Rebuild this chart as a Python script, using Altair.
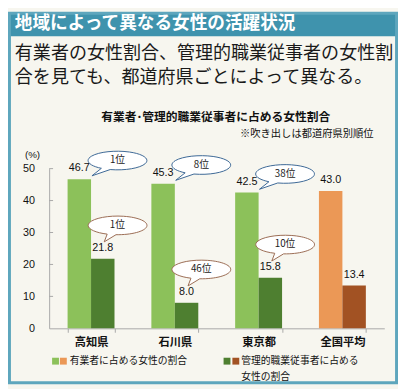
import altair as alt
import pandas as pd

# ---------------- data ----------------
categories = ["高知県", "石川県", "東京都", "全国平均"]
employed_share = [46.7, 45.3, 42.5, 43.0]      # 有業者に占める女性の割合 (%)
manager_share = [21.8, 8.0, 15.8, 13.4]        # 管理的職業従事者に占める女性の割合 (%)
employed_rank = ["1位", "8位", "38位", ""]
manager_rank = ["1位", "46位", "10位", ""]
legend_lines_a = ["有業者に占める女性の割合"]
legend_lines_b = ["管理的職業従事者に占める", "女性の割合"]
y_ticks = [0, 10, 20, 30, 40, 50]

header = "地域によって異なる女性の活躍状況"
lead_lines = ["有業者の女性割合、管理的職業従事者の女性割", "合を見ても、都道府県ごとによって異なる。"]
chart_title = "有業者･管理的職業従事者に占める女性割合"
note = "※吹き出しは都道府県別順位"
unit = "(%)"

# ---------------- styles ----------------
LIGHT_GREEN = "#8cc15a"
DARK_GREEN = "#4e7f30"
ORANGE = "#eb9856"
BROWN = "#a25223"
TEAL = "#3f93ad"
FRAME = "#5ea6bd"
CREAM = "#f7f6ef"
JP = "Noto Sans CJK JP"
LAT = "Liberation Sans"

rows = []
for i, c in enumerate(categories):
    grp = "avg" if c == "全国平均" else "pref"
    rows.append(dict(cat=c, series="a", value=employed_share[i], rank=employed_rank[i], key=grp + "_a"))
    rows.append(dict(cat=c, series="b", value=manager_share[i], rank=manager_rank[i], key=grp + "_b"))
df = pd.DataFrame(rows)

PAD_L, PAD_T, PAD_R, PAD_B = 42, 160, 14, 58
W, H = 342, 163
OX, OY = 8 + PAD_L, 8 + PAD_T  # page position of plot origin


def px(x):
    return x - OX


def py(y):
    return y - OY


yscale = alt.Scale(domain=[0, 50], nice=False)
xscale = alt.Scale(paddingInner=0.44, paddingOuter=0.22)

x_axis = alt.Axis(title=None, labelAngle=0, tickBand="extent", tickSize=4,
                  tickColor="#a8a8a8", domainColor="#a8a8a8",
                  labelFont=JP, labelFontWeight="bold", labelFontSize=11.5,
                  labelColor="#111", labelPadding=5)
y_axis = alt.Axis(values=y_ticks, title=None, grid=False, ticks=False,
                  domainColor="#a8a8a8", labelFont=LAT, labelFontSize=11,
                  labelColor="#111", labelPadding=15)


def xpos(band=None):
    if band is None:
        return alt.X("cat:N", sort=categories, scale=xscale, axis=x_axis)
    return alt.X("cat:N", sort=categories, scale=xscale, axis=x_axis, bandPosition=band)


def ypos(field="value"):
    return alt.Y(f"{field}:Q", scale=yscale, axis=y_axis)


bars = alt.Chart(df).mark_bar().encode(
    x=xpos(),
    xOffset=alt.XOffset("series:N", scale=alt.Scale(paddingInner=0, paddingOuter=0)),
    y=ypos(),
    color=alt.Color("key:N", legend=None,
                    scale=alt.Scale(domain=["pref_a", "pref_b", "avg_a", "avg_b"],
                                    range=[LIGHT_GREEN, DARK_GREEN, ORANGE, BROWN])),
)

ytick_df = pd.DataFrame({"value": y_ticks[1:]})
yticks = alt.Chart(ytick_df).mark_rule(color="#a8a8a8").encode(
    y=ypos(), x=alt.value(0), x2=alt.value(4)
)


def value_labels(series, band):
    return alt.Chart(df).transform_filter(f"datum.series == '{series}'").mark_text(
        dy=-6, baseline="bottom", fontSize=11, font=LAT, color="#111"
    ).encode(x=xpos(band), y=ypos(), text=alt.Text("value:Q", format=".1f"))


PATH_UP = "M -0.25 0.307 A 1 0.317 0 1 0 -0.55 0.265 L -0.87 0.52 Z"
PATH_LOW = "M -0.05 0.317 A 1 0.317 0 1 0 -0.35 0.297 L -0.45 0.56 Z"


def bubbles(series, band, path, stroke, ox, oy):
    base = alt.Chart(df).transform_filter(f"datum.series == '{series}' && datum.rank != ''")
    shape = base.mark_point(shape=path, size=3600, filled=True, fill="white",
                            stroke=stroke, strokeWidth=1, opacity=1,
                            xOffset=ox, yOffset=oy).encode(x=xpos(band), y=ypos())
    txt = base.mark_text(dx=ox, dy=oy, fontSize=10, font=JP, color="#222",
                         baseline="middle").encode(text="rank:N", x=xpos(band), y=ypos())
    return shape + txt


one = pd.DataFrame({"d": [0]})


def rect(x1, y1, x2, y2, **kw):
    return alt.Chart(one).mark_rect(**kw).encode(
        x=alt.value(px(x1)), x2=alt.value(px(x2)), y=alt.value(py(y1)), y2=alt.value(py(y2)))


def label(text, x, y, **kw):
    return alt.Chart(one).mark_text(baseline="middle", **kw).encode(
        x=alt.value(px(x)), y=alt.value(py(y)), text=alt.value(text))


deco_back = [
    rect(9.5, 9.5, 404.5, 33, fill=TEAL),
    rect(9.5, 9.5, 404.5, 386.5, filled=False, stroke=FRAME, strokeWidth=3),
]
deco_front = [
    label(header, 15, 21, align="left", font=JP, fontSize=18, fontWeight="bold", color="white"),
    label(lead_lines[0], 15, 50, align="left", font=JP, fontSize=18.4, color="#1a1a1a"),
    label(lead_lines[1], 15, 75, align="left", font=JP, fontSize=18.4, color="#1a1a1a"),
    label(chart_title, 220, 115, align="center", font=JP, fontSize=12, fontWeight="bold", color="#111"),
    label(note, 381, 133, align="right", font=JP, fontSize=10.5, color="#111"),
    label(unit, 33, 154, align="center", font=LAT, fontSize=10, color="#111"),
    rect(53, 361, 60, 368, fill=LIGHT_GREEN),
    rect(61, 361, 68, 368, fill=ORANGE),
    rect(228, 361, 235, 368, fill=DARK_GREEN),
    rect(237, 361, 244, 368, fill=BROWN),
    label(legend_lines_a[0], 71, 364.5, align="left", font=JP, fontSize=10, color="#111"),
    label(legend_lines_b[0], 246, 364.5, align="left", font=JP, fontSize=10, color="#111"),
    label(legend_lines_b[1], 246, 381, align="left", font=JP, fontSize=10, color="#111"),
]

chart = alt.layer(
    bars,
    *deco_back,
    yticks,
    value_labels("a", 0.25),
    value_labels("b", 0.75),
    bubbles("a", 0.25, PATH_UP, "#3a6694", 39, -19),
    bubbles("b", 0.75, PATH_LOW, "#9a6a52", 15, -34),
    *deco_front,
).properties(
    width=W, height=H,
    autosize=alt.AutoSizeParams(type="none"),
    padding={"left": PAD_L, "top": PAD_T, "right": PAD_R, "bottom": PAD_B},
    background=CREAM,
).configure_view(strokeWidth=0)

chart.save("out.html", embed_options={"renderer": "svg", "actions": False})
